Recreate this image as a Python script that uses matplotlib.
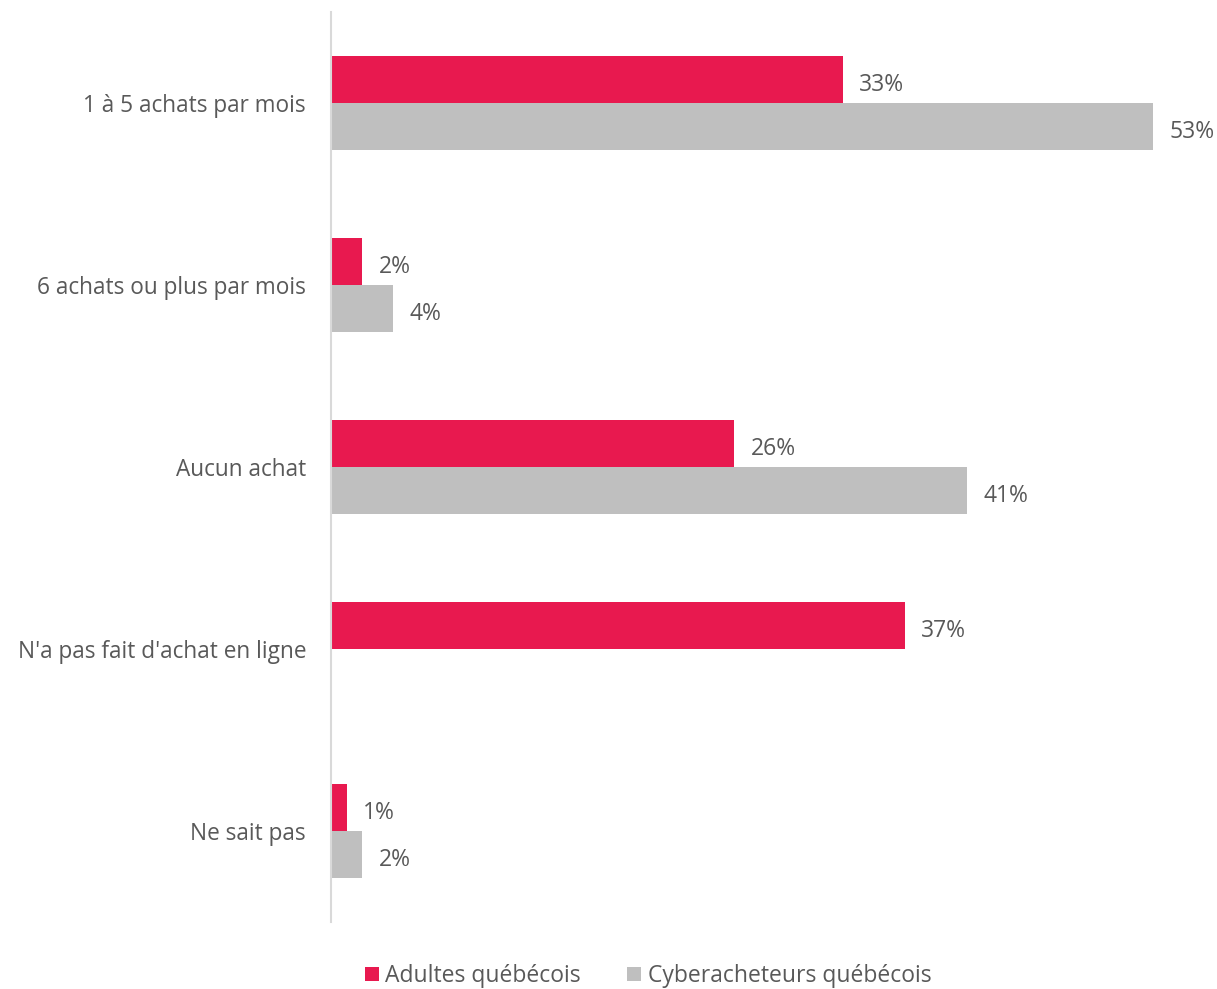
import numpy as np
import matplotlib
matplotlib.use("Agg")
import matplotlib.pyplot as plt

plt.rcParams['font.family'] = ['Open Sans', 'DejaVu Sans']

categories = ["1 à 5 achats par mois", "6 achats ou plus par mois", "Aucun achat",
              "N'a pas fait d'achat en ligne", "Ne sait pas"]
adultes = [33, 2, 26, 37, 1]
cyber = [53, 4, 41, np.nan, 2]
series_names = ["Adultes québécois", "Cyberacheteurs québécois"]

red = "#E8194F"
grey = "#BFBFBF"
text_col = "#595959"

fig = plt.figure(figsize=(12.17, 9.89), dpi=100)
ax = fig.add_axes([331 / 1217, 67 / 989, 1 - 331 / 1217, (922 - 12) / 989])

y = np.arange(len(categories))
h = 0.26
b1 = ax.barh(y - h / 2, adultes, height=h, color=red, label=series_names[0])
b2 = ax.barh(y + h / 2, cyber, height=h, color=grey, label=series_names[1])

# value labels, skip missing bar
for bars, vals in ((b1, adultes), (b2, cyber)):
    for bar, v in zip(bars, vals):
        if np.isnan(v):
            continue
        ax.annotate(f"{v:.0f}%", (v, bar.get_y() + bar.get_height() / 2),
                    xytext=(12, -2), textcoords="offset points",
                    va="center_baseline", ha="left", fontsize=16.5, color=text_col)

ax.set_xlim(0, 886 / 15.5)
ax.set_ylim(4.5, -0.5)
ax.set_yticks(y)
ax.set_yticklabels(categories, fontsize=16.3, color=text_col)
ax.tick_params(axis="y", length=0, pad=18)
ax.set_xticks([])
for s in ("top", "right", "bottom"):
    ax.spines[s].set_visible(False)
ax.spines["left"].set_color("#D9D9D9")
ax.spines["left"].set_linewidth(1.5)

fig.legend(loc="center", bbox_to_anchor=(648 / 1217, 13 / 989), ncol=2, frameon=False,
           fontsize=16.5, labelcolor=text_col, handlelength=0.6, handleheight=0.6,
           handletextpad=0.3, columnspacing=2.0)

fig.savefig("out.png", dpi=100, facecolor="white")
